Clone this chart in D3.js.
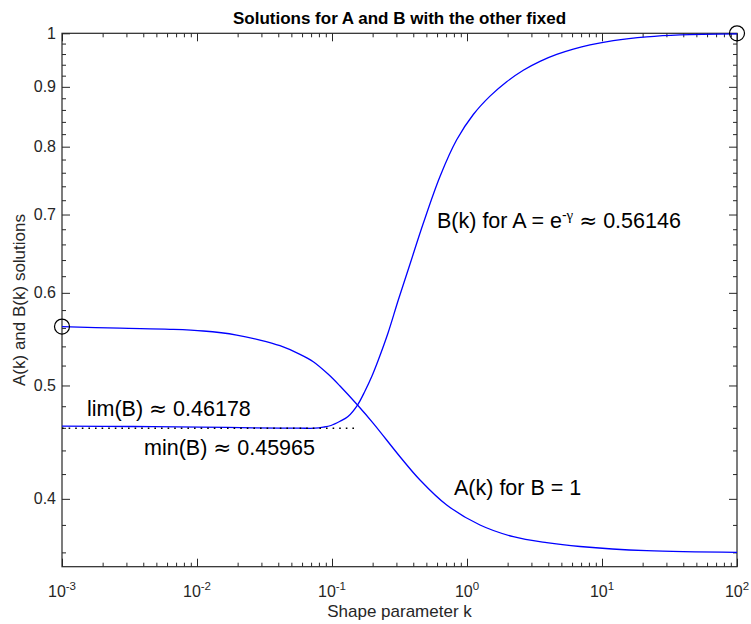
<!DOCTYPE html>
<html>
<head>
<meta charset="utf-8">
<script src="https://cdn.jsdelivr.net/npm/d3@7"></script>
<style>
  html, body { margin: 0; padding: 0; background: #fff; }
  svg { display: block; font-family: "Liberation Sans", Arial, Helvetica, sans-serif; }
</style>
</head>
<body>
<svg id="chart" width="751" height="624"></svg>
<script>
// ---- data ----
const kA   = [0.001, 0.002689, 0.00631, 0.011134, 0.019679, 0.029286, 0.041183, 0.057943, 0.072677, 0.093895, 0.11466, 0.15451, 0.20225, 0.31908, 0.44857, 0.70713, 1.2483, 2.2029, 3.8946, 6.8707, 21.431, 100];
const valA = [0.56141, 0.55964, 0.55843, 0.55657, 0.55220, 0.54679, 0.54069, 0.53162, 0.52393, 0.51110, 0.49947, 0.48114, 0.46411, 0.43459, 0.41511, 0.39518, 0.37992, 0.37127, 0.36692, 0.36418, 0.36118, 0.36005];

const kB   = [0.001, 0.00337, 0.0105, 0.0209, 0.0412, 0.058, 0.0748, 0.0861, 0.09831, 0.11466, 0.1314, 0.15451, 0.17556, 0.19775, 0.22033, 0.26001, 0.30977, 0.37844, 0.47453, 0.63096, 0.8388, 1.1134, 1.4805, 1.9679, 2.6121, 3.4731, 4.6178, 6.1292, 8.1491, 12.126, 21.431, 37.825, 100];
const valB = [0.4616, 0.4612, 0.4607, 0.4602, 0.4598, 0.45967, 0.45966, 0.4606, 0.46213, 0.46597, 0.4704, 0.48114, 0.49458, 0.50939, 0.52569, 0.55438, 0.5916, 0.63503, 0.68799, 0.75439, 0.8109, 0.8523, 0.88373, 0.90914, 0.92994, 0.94638, 0.95932, 0.96938, 0.97743, 0.98573, 0.99313, 0.99705, 0.999];

const kMinLine   = [0.001, 0.152];
const minBValue  = 0.45965;
const circleK    = [0.001, 100];
const circleVal  = [0.56146, 1];

const xMajorTicks  = [1e-3, 1e-2, 1e-1, 1, 10, 100];
const xTickExps    = ["-3", "-2", "-1", "0", "1", "2"];
const yMajorTicks  = [0.4, 0.5, 0.6, 0.7, 0.8, 0.9, 1];
const yTickLabels  = ["0.4", "0.5", "0.6", "0.7", "0.8", "0.9", "1"];

const titleText  = "Solutions for A and B with the other fixed";
const xLabelText = "Shape parameter k";
const yLabelText = "A(k) and B(k) solutions";

// ---- layout ----
const L = 62, R = 737, T = 33.3, Bm = 566.7;
const axisColor = "#262626";

const svg = d3.select("#chart");
const x = d3.scaleLog().domain([1e-3, 1e2]).range([L, R]);
const y = d3.scaleLog().domain([0.35, 1]).range([Bm, T]);

// minor ticks from the scales
const xMinorTicks = x.ticks().filter(v => !xMajorTicks.some(m => Math.abs(m - v) / m < 1e-9));
const yMinorTicks = d3.range(18, 50).map(i => +(i * 0.02).toFixed(2)).filter(v => v > 0.35 && v < 1 && !yMajorTicks.some(m => Math.abs(m - v) < 1e-9));

function styleAxis(g) {
  g.selectAll("path.domain").remove();
  g.selectAll("line").attr("stroke", axisColor).attr("stroke-width", 1);
  g.selectAll("text").remove();
}

// bottom
svg.append("g").attr("transform", `translate(0,${Bm})`)
  .call(d3.axisBottom(x).tickValues(xMajorTicks).tickSize(-8).tickSizeOuter(0).tickFormat("")).call(styleAxis);
svg.append("g").attr("transform", `translate(0,${Bm})`)
  .call(d3.axisBottom(x).tickValues(xMinorTicks).tickSize(-4).tickSizeOuter(0).tickFormat("")).call(styleAxis);
// top
svg.append("g").attr("transform", `translate(0,${T})`)
  .call(d3.axisTop(x).tickValues(xMajorTicks).tickSize(-8).tickSizeOuter(0).tickFormat("")).call(styleAxis);
svg.append("g").attr("transform", `translate(0,${T})`)
  .call(d3.axisTop(x).tickValues(xMinorTicks).tickSize(-4).tickSizeOuter(0).tickFormat("")).call(styleAxis);
// left
svg.append("g").attr("transform", `translate(${L},0)`)
  .call(d3.axisLeft(y).tickValues(yMajorTicks).tickSize(-8).tickSizeOuter(0).tickFormat("")).call(styleAxis);
svg.append("g").attr("transform", `translate(${L},0)`)
  .call(d3.axisLeft(y).tickValues(yMinorTicks).tickSize(-4).tickSizeOuter(0).tickFormat("")).call(styleAxis);
// right
svg.append("g").attr("transform", `translate(${R},0)`)
  .call(d3.axisRight(y).tickValues(yMajorTicks).tickSize(-8).tickSizeOuter(0).tickFormat("")).call(styleAxis);
svg.append("g").attr("transform", `translate(${R},0)`)
  .call(d3.axisRight(y).tickValues(yMinorTicks).tickSize(-4).tickSizeOuter(0).tickFormat("")).call(styleAxis);

// frame
svg.append("rect")
  .attr("x", L).attr("y", T).attr("width", R - L).attr("height", Bm - T)
  .attr("fill", "none").attr("stroke", axisColor).attr("stroke-width", 1.2);

// x tick labels
const xl = svg.append("g").attr("fill", axisColor).attr("font-size", 16);
xMajorTicks.forEach((v, i) => {
  const t = xl.append("text").attr("x", x(v)).attr("y", 596.5).attr("text-anchor", "middle");
  t.append("tspan").text("10");
  t.append("tspan").attr("dy", -7).attr("font-size", 11.5).text(xTickExps[i]);
});

// y tick labels
const yl = svg.append("g").attr("fill", axisColor).attr("font-size", 16);
yMajorTicks.forEach((v, i) => {
  yl.append("text").attr("x", 56).attr("y", y(v)).attr("dy", "0.35em")
    .attr("text-anchor", "end").text(yTickLabels[i]);
});

// axis labels and title
svg.append("text").attr("x", (L + R) / 2).attr("y", 616.5).attr("text-anchor", "middle")
  .attr("font-size", 17).attr("fill", axisColor).text(xLabelText);
svg.append("text").attr("transform", `translate(24.5,${(T + Bm) / 2}) rotate(-90)`)
  .attr("text-anchor", "middle").attr("font-size", 17).attr("fill", axisColor).text(yLabelText);
svg.append("text").attr("x", (L + R) / 2).attr("y", 24).attr("text-anchor", "middle")
  .attr("font-size", 17).attr("font-weight", "bold").attr("fill", "#000").text(titleText);

// curves
const line = d3.line().x(d => x(d[0])).y(d => y(d[1])).curve(d3.curveCatmullRom.alpha(0.5));
svg.append("path").datum(kA.map((k, i) => [k, valA[i]]))
  .attr("d", line).attr("fill", "none").attr("stroke", "#0000ff").attr("stroke-width", 1.3);
svg.append("path").datum(kB.map((k, i) => [k, valB[i]]))
  .attr("d", line).attr("fill", "none").attr("stroke", "#0000ff").attr("stroke-width", 1.3);

// dotted min line
svg.append("path").datum(kMinLine.map(k => [k, minBValue]))
  .attr("d", d3.line().x(d => x(d[0])).y(d => y(d[1])))
  .attr("fill", "none").attr("stroke", "#000").attr("stroke-width", 1.5)
  .attr("stroke-dasharray", "1.6,5");

// circles
svg.selectAll("circle.mark").data(circleK.map((k, i) => [k, circleVal[i]])).enter()
  .append("circle").attr("class", "mark")
  .attr("cx", d => x(d[0])).attr("cy", d => y(d[1])).attr("r", 7.5)
  .attr("fill", "none").attr("stroke", "#000").attr("stroke-width", 1.2);

// annotations
const approxFont = "'DejaVu Sans', sans-serif";
const ann = svg.append("g").attr("font-size", 21.5).attr("fill", "#000");
function approxText(xp, yp, before, after) {
  const t = ann.append("text").attr("x", xp).attr("y", yp);
  t.append("tspan").text(before + " ");
  t.append("tspan").attr("font-family", approxFont).text("\u2248");
  t.append("tspan").text(" " + after);
  return t;
}
approxText(87, 415.5, "lim(B)", "0.46178");
approxText(144, 455, "min(B)", "0.45965");
ann.append("text").attr("x", 454).attr("y", 495).text("A(k) for B = 1");
const tb = ann.append("text").attr("x", 437).attr("y", 228.3);
tb.append("tspan").text("B(k) for A = e");
tb.append("tspan").attr("dy", -8.5).attr("font-size", 14).text("-");
tb.append("tspan").attr("font-size", 15).attr("font-family", "'Liberation Serif', 'Times New Roman', serif").text("\u03B3");
tb.append("tspan").attr("dy", 8.5).text(" ");
tb.append("tspan").attr("font-family", approxFont).text("\u2248");
tb.append("tspan").text(" 0.56146");
</script>
</body>
</html>
